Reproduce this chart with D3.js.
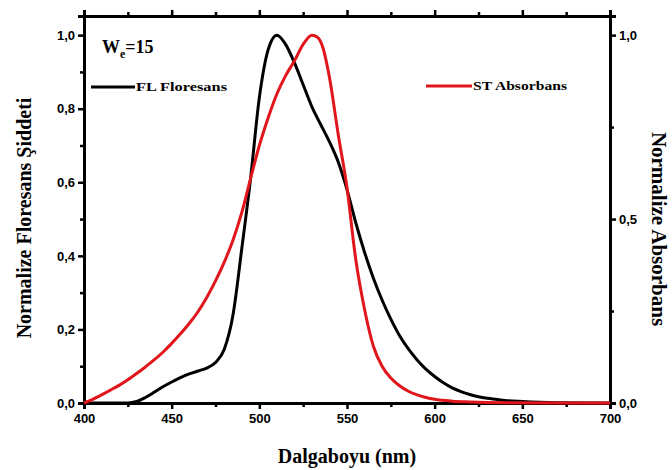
<!DOCTYPE html>
<html>
<head>
<meta charset="utf-8">
<script src="https://cdn.jsdelivr.net/npm/d3@7"></script>
<style>
  body { margin: 0; background: #fff; }
  .tick text { font-family: "Liberation Sans", Arial, sans-serif; font-weight: bold; font-size: 13px; }
</style>
</head>
<body>
<svg id="chart"></svg>
<script>
// FL (floresans) spectrum, left axis
const flWave = [400, 410, 420, 425, 430, 435, 440, 445, 450, 455, 460, 465, 470, 475, 480, 485, 490, 495, 500, 505, 510, 515, 520, 525, 530, 535, 540, 545, 550, 555, 560, 565, 570, 575, 580, 585, 590, 595, 600, 605, 610, 615, 620, 625, 630, 635, 640, 650, 660, 670, 700];
const flValue = [0, 0, 0, 0, 0.004, 0.015, 0.029, 0.044, 0.057, 0.069, 0.079, 0.087, 0.095, 0.11, 0.146, 0.24, 0.42, 0.61, 0.83, 0.96, 1.0, 0.975, 0.925, 0.865, 0.805, 0.757, 0.71, 0.655, 0.58, 0.49, 0.41, 0.34, 0.28, 0.228, 0.183, 0.147, 0.117, 0.092, 0.072, 0.055, 0.041, 0.031, 0.023, 0.017, 0.013, 0.01, 0.007, 0.004, 0.002, 0.001, 0];

// ST (absorbans) spectrum, right axis
const stWave = [400, 405, 410, 415, 420, 425, 430, 435, 440, 445, 450, 455, 460, 465, 470, 475, 480, 485, 490, 495, 500, 505, 510, 515, 520, 525, 530, 533, 536, 540, 545, 550, 555, 560, 565, 570, 575, 580, 585, 590, 595, 600, 610, 620, 640, 700];
const stValue = [0, 0.01, 0.022, 0.035, 0.048, 0.063, 0.08, 0.098, 0.117, 0.138, 0.162, 0.188, 0.216, 0.248, 0.287, 0.332, 0.383, 0.443, 0.518, 0.61, 0.7, 0.775, 0.84, 0.89, 0.93, 0.975, 1.0, 0.995, 0.97, 0.885, 0.73, 0.585, 0.39, 0.255, 0.155, 0.1, 0.068, 0.047, 0.032, 0.022, 0.015, 0.01, 0.005, 0.003, 0.001, 0];

const xMajor = [400, 450, 500, 550, 600, 650, 700];
const xMinor = [425, 475, 525, 575, 625, 675];
const leftMajor = [0, 0.2, 0.4, 0.6, 0.8, 1.0];
const leftMinor = [0.1, 0.3, 0.5, 0.7, 0.9];
const rightMajor = [0, 0.5, 1.0];
const rightMinor = [0.25, 0.75];

const W = 672, H = 470;
const margin = { top: 16, right: 62, bottom: 67, left: 84 };
const width = W - margin.left - margin.right;
const height = H - margin.top - margin.bottom;

const svg = d3.select("#chart").attr("width", W).attr("height", H);
const chart = svg.append("g").attr("transform", `translate(${margin.left},${margin.top})`);

const x = d3.scaleLinear().domain([400, 700]).range([0, width]);
const yL = d3.scaleLinear().domain([0, 1.052]).range([height, 0]);
const yR = d3.scaleLinear().domain([0, 1.052]).range([height, 0]);

const comma = v => d3.format(".1f")(v).replace(".", ",");

function styleAxis(g) {
  g.select(".domain").attr("stroke", "#000").attr("stroke-width", 3);
  g.selectAll(".tick line").attr("stroke", "#000").attr("stroke-width", 2.5);
  g.selectAll(".tick text").attr("fill", "#000");
}

// minor ticks first, then major axes on top
chart.append("g").attr("transform", `translate(0,${height})`)
  .call(d3.axisBottom(x).tickValues(xMinor).tickSize(4).tickFormat("")).call(styleAxis);
chart.append("g")
  .call(d3.axisTop(x).tickValues(xMinor).tickSize(4).tickFormat("")).call(styleAxis);
chart.append("g")
  .call(d3.axisLeft(yL).tickValues(leftMinor).tickSize(4).tickFormat("")).call(styleAxis);
chart.append("g").attr("transform", `translate(${width},0)`)
  .call(d3.axisRight(yR).tickValues(rightMinor).tickSize(4).tickFormat("")).call(styleAxis);

chart.append("g").attr("transform", `translate(0,${height})`)
  .call(d3.axisBottom(x).tickValues(xMajor).tickSize(6).tickPadding(5).tickFormat(d3.format("d"))).call(styleAxis);
chart.append("g")
  .call(d3.axisTop(x).tickValues(xMajor).tickSize(6).tickFormat("")).call(styleAxis);
chart.append("g")
  .call(d3.axisLeft(yL).tickValues(leftMajor).tickSize(6).tickPadding(3).tickFormat(comma)).call(styleAxis);
chart.append("g").attr("transform", `translate(${width},0)`)
  .call(d3.axisRight(yR).tickValues(rightMajor).tickSize(6).tickPadding(3).tickFormat(comma)).call(styleAxis);

// curves
const flData = flWave.map((w, i) => ({ w: w, v: flValue[i] }));
const stData = stWave.map((w, i) => ({ w: w, v: stValue[i] }));

chart.append("path").datum(flData)
  .attr("fill", "none").attr("stroke", "#000").attr("stroke-width", 3)
  .attr("d", d3.line().x(d => x(d.w)).y(d => yL(d.v)).curve(d3.curveMonotoneX));

chart.append("path").datum(stData)
  .attr("fill", "none").attr("stroke", "#e0161c").attr("stroke-width", 3)
  .attr("d", d3.line().x(d => x(d.w)).y(d => yR(d.v)).curve(d3.curveMonotoneX));

// legend
const serif = "'Liberation Serif', 'Times New Roman', serif";
const we = svg.append("text")
  .attr("x", 102).attr("y", 53)
  .style("font-family", serif).style("font-weight", "bold").style("font-size", "18px");
we.append("tspan").text("W");
we.append("tspan").attr("dy", 5).style("font-size", "12px").text("e");
we.append("tspan").attr("dy", -5).text("=15");

svg.append("line").attr("x1", 91).attr("x2", 135).attr("y1", 87).attr("y2", 87)
  .attr("stroke", "#000").attr("stroke-width", 3);
svg.append("text").attr("x", 136).attr("y", 91)
  .attr("textLength", 91).attr("lengthAdjust", "spacingAndGlyphs")
  .style("font-family", serif).style("font-weight", "bold").style("font-size", "13px")
  .text("FL Floresans");

svg.append("line").attr("x1", 426).attr("x2", 472).attr("y1", 86).attr("y2", 86)
  .attr("stroke", "#e0161c").attr("stroke-width", 3);
svg.append("text").attr("x", 473).attr("y", 90)
  .attr("textLength", 94).attr("lengthAdjust", "spacingAndGlyphs")
  .style("font-family", serif).style("font-weight", "bold").style("font-size", "13px")
  .text("ST Absorbans");

// axis titles
svg.append("text")
  .attr("x", 347).attr("y", 463)
  .attr("text-anchor", "middle")
  .style("font-family", serif).style("font-weight", "bold").style("font-size", "20px")
  .text("Dalgaboyu (nm)");

svg.append("text")
  .attr("transform", "translate(31,218) rotate(-90)")
  .attr("text-anchor", "middle")
  .style("font-family", serif).style("font-weight", "bold").style("font-size", "20px")
  .text("Normalize Floresans Şiddeti");

svg.append("text")
  .attr("transform", "translate(652,229) rotate(90)")
  .attr("text-anchor", "middle")
  .style("font-family", serif).style("font-weight", "bold").style("font-size", "21px")
  .text("Normalize Absorbans");
</script>
</body>
</html>
